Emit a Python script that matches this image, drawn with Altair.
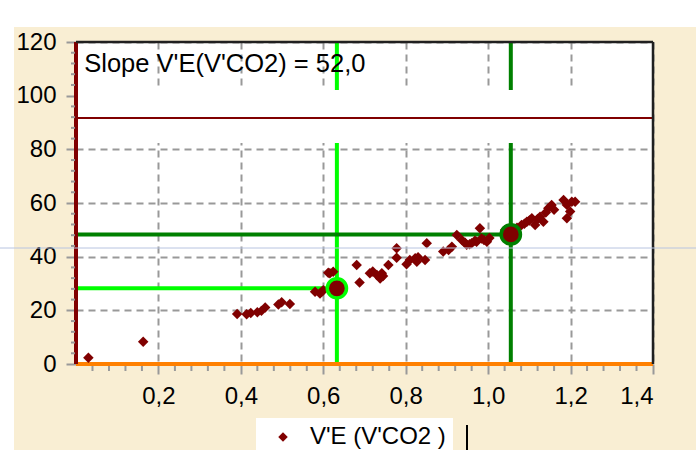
import altair as alt
import pandas as pd

# V'E versus V'CO2 samples
vco2 = [0.030, 0.163, 0.391, 0.414, 0.424, 0.440, 0.450, 0.459, 0.491, 0.499,
        0.519, 0.580, 0.592, 0.596, 0.600, 0.612, 0.616, 0.624, 0.681, 0.688,
        0.713, 0.720, 0.730, 0.738, 0.742, 0.745, 0.758, 0.778, 0.778, 0.802,
        0.810, 0.823, 0.827, 0.830, 0.847, 0.851, 0.891, 0.904, 0.912, 0.924,
        0.936, 0.944, 0.948, 0.955, 0.960, 0.968, 0.972, 0.980, 0.984, 0.990,
        0.997, 1.003, 1.041, 1.048, 1.066, 1.070, 1.081, 1.088, 1.094, 1.100,
        1.106, 1.114, 1.120, 1.126, 1.134, 1.140, 1.146, 1.154, 1.160, 1.183,
        1.191, 1.191, 1.199, 1.203, 1.211]
ve = [2.3, 8.3, 18.6, 18.5, 19.0, 19.3, 19.8, 21.1, 22.2, 23.0,
      22.4, 26.9, 26.3, 26.9, 27.5, 34.0, 33.8, 34.4, 36.9, 30.4,
      33.8, 34.5, 33.2, 31.9, 33.8, 32.8, 36.9, 43.1, 39.6, 37.2,
      38.8, 39.4, 38.1, 39.8, 38.8, 45.0, 41.9, 42.5, 43.7, 48.1,
      46.2, 45.2, 44.4, 44.6, 45.0, 45.9, 45.6, 50.6, 46.8, 46.2,
      45.6, 47.0, 49.9, 47.0, 50.0, 50.8, 51.8, 52.3, 53.0, 53.5,
      54.3, 51.8, 54.0, 54.9, 53.0, 56.5, 58.0, 59.3, 57.5, 61.1,
      59.3, 54.3, 56.8, 60.5, 60.5]
series_name = "V'E (V'CO2 )"

# Threshold markers (VT1 bright green, VT2 dark green)
thr_x = [0.633, 1.055]
thr_y = [28.2, 48.3]
thr_color = ["#00FF00", "#008000"]

ve_limit = 91.7
slope_text = "Slope V'E(V'CO2) = 52,0"

x_ticks = [0.2, 0.4, 0.6, 0.8, 1.0, 1.2, 1.4]
y_ticks = [0, 20, 40, 60, 80, 100, 120]
x_minor = [round(0.04 * i, 2) for i in range(1, 35) if i % 5 != 0]
y_minor = [4 * i for i in range(1, 30) if i % 5 != 0]

X_MAX, Y_MAX = 1.4, 120
W, H = 577, 322
PAD = {"left": 76, "top": 42, "right": 43, "bottom": 86}
FONT = "Liberation Sans"
MAROON = "#800000"

xs = alt.Scale(domain=[0, X_MAX], nice=False, zero=False)
ys = alt.Scale(domain=[0, Y_MAX], nice=False, zero=False)

pts = pd.DataFrame({"x": vco2, "y": ve, "s": [series_name] * len(vco2)})
thr = pd.DataFrame({"x": thr_x, "y": thr_y, "c": thr_color, "x0": [0, 0],
                    "ylo": [0, 0], "yhi": [Y_MAX, Y_MAX]})

# page frame: white strips at the top and left edge
frame = alt.Chart(pd.DataFrame({"k": [0]})).mark_rect(color="white").encode(
    x=alt.value(-PAD["left"]), x2=alt.value(W + PAD["right"]),
    y=alt.value(-PAD["top"]), y2=alt.value(27 - PAD["top"]),
)
frame_left = alt.Chart(pd.DataFrame({"k": [0]})).mark_rect(color="white").encode(
    x=alt.value(-PAD["left"]), x2=alt.value(14 - PAD["left"]),
    y=alt.value(27 - PAD["top"]), y2=alt.value(H + PAD["bottom"]),
)

# base carrying the axes and grid
axis_base = alt.Chart(pts).mark_point(opacity=0).encode(
    x=alt.X("x:Q", scale=xs, title=None,
            axis=alt.Axis(values=x_ticks, grid=True, domain=False,
                          labelExpr="replace(format(datum.value, '.1f'), '.', ',')")),
    y=alt.Y("y:Q", scale=ys, title=None,
            axis=alt.Axis(values=y_ticks, grid=True, domain=False, format="d")),
)

thr_v = alt.Chart(thr).mark_rule(strokeWidth=4).encode(
    x="x:Q", y="ylo:Q", y2="yhi:Q", color=alt.Color("c:N", scale=None)
)
band = alt.Chart(pd.DataFrame({"x0": [0], "x1": [X_MAX], "y0": [82.4], "y1": [102.1]})).mark_rect(
    color="white").encode(x="x0:Q", x2="x1:Q", y="y0:Q", y2="y1:Q")
thr_h = alt.Chart(thr).mark_rule(strokeWidth=4).encode(
    x="x0:Q", x2="x:Q", y="y:Q", color=alt.Color("c:N", scale=None)
)
limit = alt.Chart(pd.DataFrame({"y": [ve_limit], "x0": [0], "x1": [X_MAX]})).mark_rule(
    color=MAROON, strokeWidth=2).encode(y="y:Q", x="x0:Q", x2="x1:Q")
base_x = alt.Chart(pd.DataFrame({"y": [0], "x0": [0], "x1": [X_MAX]})).mark_rule(
    color="#FF8000", strokeWidth=4).encode(y="y:Q", x="x0:Q", x2="x1:Q")
base_y = alt.Chart(pd.DataFrame({"x": [0], "y0": [0], "y1": [Y_MAX]})).mark_rule(
    color=MAROON, strokeWidth=4).encode(x="x:Q", y="y0:Q", y2="y1:Q")

border_top = alt.Chart(pd.DataFrame({"k": [0]})).mark_rule(color="#202020", strokeWidth=2.5).encode(
    x=alt.value(0), x2=alt.value(W), y=alt.value(0))
border_right = alt.Chart(pd.DataFrame({"k": [0]})).mark_rule(color="#202020", strokeWidth=2.5).encode(
    x=alt.value(W), y=alt.value(0), y2=alt.value(H))

xminor = alt.Chart(pd.DataFrame({"x": x_minor})).mark_rule(color="#999999", strokeWidth=2).encode(
    x="x:Q", y=alt.value(H + 2), y2=alt.value(H + 7))
yminor = alt.Chart(pd.DataFrame({"y": y_minor})).mark_rule(color="#999999", strokeWidth=2).encode(
    y="y:Q", x=alt.value(-5), x2=alt.value(-1))

scatter = alt.Chart(pts).mark_point(shape="diamond", filled=True, size=110, opacity=1).encode(
    x="x:Q", y="y:Q",
    color=alt.Color("s:N", scale=alt.Scale(range=[MAROON]),
                    legend=alt.Legend(title=None, orient="none", legendX=180, legendY=376,
                                      fillColor="white", padding=7, symbolOffset=8,
                                      symbolType="diamond", symbolSize=90, labelOffset=15,
                                      labelFontSize=24, labelFont=FONT, labelColor="#000000",
                                      labelLimit=400)),
)

markers = alt.Chart(thr).mark_point(shape="circle", filled=True, size=370, fill=MAROON,
                                    strokeWidth=3.5, opacity=1, strokeOpacity=1).encode(
    x="x:Q", y="y:Q", stroke=alt.Color("c:N", scale=None)
)

label = alt.Chart(pd.DataFrame({"x": [0.02], "y": [108.8], "t": [slope_text]})).mark_text(
    align="left", baseline="alphabetic", font=FONT, fontSize=25.5, color="black"
).encode(x="x:Q", y="y:Q", text="t:N")

scan_line = alt.Chart(pd.DataFrame({"k": [0]})).mark_rule(color="#B8C4E0", strokeWidth=1).encode(
    x=alt.value(-PAD["left"]), x2=alt.value(W + PAD["right"]), y=alt.value(206))
cursor = alt.Chart(pd.DataFrame({"k": [0]})).mark_rule(color="black", strokeWidth=2).encode(
    x=alt.value(467 - PAD["left"]), y=alt.value(425 - PAD["top"]), y2=alt.value(450 - PAD["top"]))

chart = alt.layer(
    frame, frame_left, axis_base, thr_v, band, thr_h, limit, base_x, base_y,
    border_top, border_right, xminor, yminor, scatter, markers, label, scan_line, cursor
).properties(
    width=W, height=H, padding=PAD, autosize=alt.AutoSizeParams(type="none"),
    background="#F9EED3",
).configure_view(
    fill="white", stroke=None
).configure_axis(
    gridColor="#999999", gridDash=[7, 5], gridWidth=2,
    tickColor="#999999", tickWidth=2, tickSize=10,
    labelFont=FONT, labelFontSize=24, labelColor="black", labelPadding=10,
)

chart.save("out.html", embed_options={"renderer": "svg", "actions": False})
